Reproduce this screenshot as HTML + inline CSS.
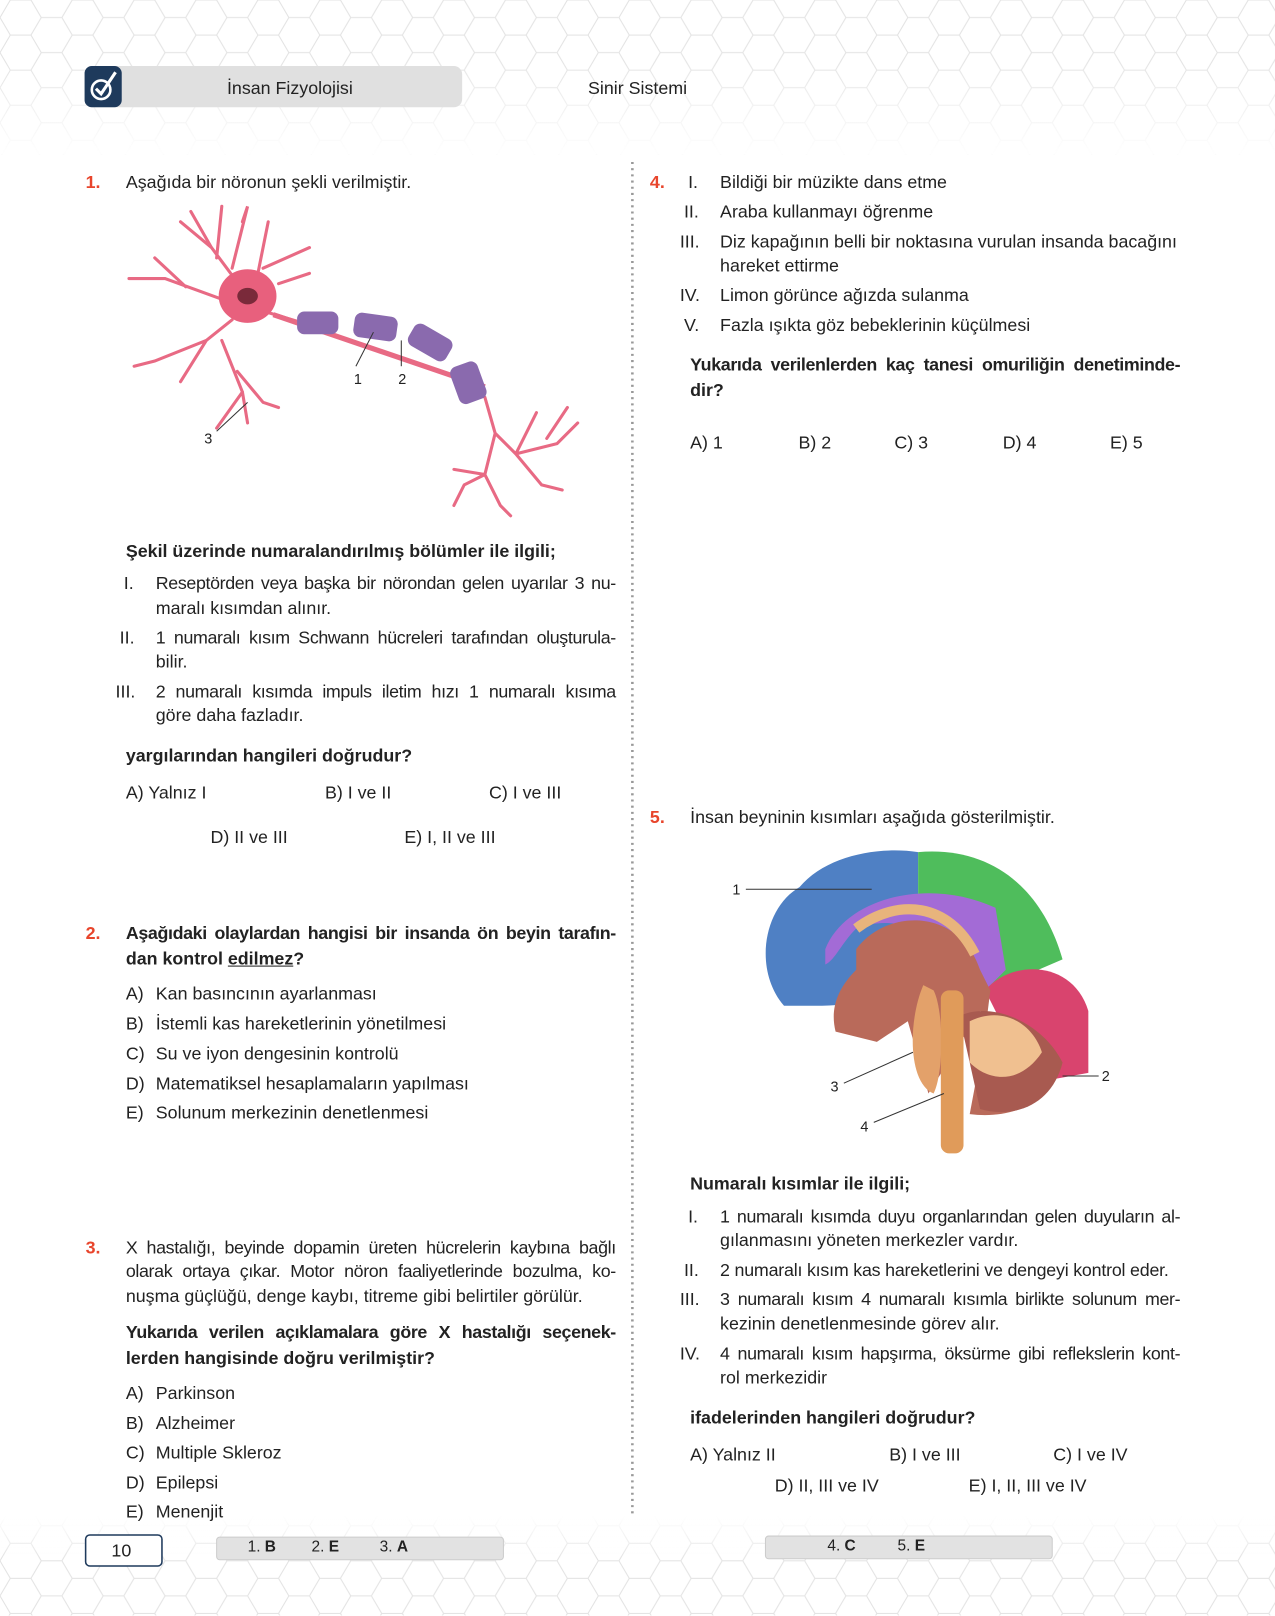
<!DOCTYPE html>
<html><head><meta charset="utf-8"><style>
html,body{margin:0;padding:0;background:#fff;width:1275px;height:1615px;overflow:hidden}
#w{position:absolute;left:0;top:0;width:1236px;height:1566px;transform:scale(1.0316);transform-origin:0 0;font-family:"Liberation Sans",sans-serif;font-size:17.3px;color:#222}
.t{position:absolute;white-space:nowrap;line-height:20px}
.j{text-align:justify;text-align-last:justify;white-space:normal;letter-spacing:-0.35px;height:20px}
.b{font-weight:bold}
.r{color:#e8452c;font-weight:bold}
</style></head><body><div id="w">
<svg style="position:absolute;left:0;top:0" width="1236" height="1566">
<defs><pattern id="hx" width="60" height="34" patternUnits="userSpaceOnUse"><path d="M0 17 L10 0 L30 0 L40 17 L30 34 L10 34 Z M40 17 L60 17" fill="none" stroke="#e2e2e2" stroke-width="1"/></pattern>
<linearGradient id="fd" x1="0" y1="0" x2="0" y2="1"><stop offset="0" stop-color="#fff" stop-opacity="0"/><stop offset="1" stop-color="#fff" stop-opacity="1"/></linearGradient>
<linearGradient id="fu" x1="0" y1="0" x2="0" y2="1"><stop offset="0" stop-color="#fff" stop-opacity="1"/><stop offset="1" stop-color="#fff" stop-opacity="0"/></linearGradient></defs>
<rect x="0" y="0" width="1236" height="150" fill="url(#hx)"/><rect x="0" y="60" width="1236" height="90" fill="url(#fd)"/>
<rect x="0" y="1470" width="1236" height="96" fill="url(#hx)"/><rect x="0" y="1470" width="1236" height="40" fill="url(#fu)"/>
<rect x="82" y="64" width="366" height="40" rx="8" fill="#e0e0e0"/>
<rect x="82" y="64" width="36" height="40" rx="7" fill="#1e3a5c"/>
<circle cx="98" cy="87" r="9" fill="none" stroke="#fff" stroke-width="2.5"/><path d="M93 86 L98 91 L112 70" fill="none" stroke="#fff" stroke-width="3"/>
<line x1="613" y1="157" x2="613" y2="1470" stroke="#999" stroke-width="2.5" stroke-dasharray="2 4"/>
<rect x="83" y="1488" width="74" height="30" rx="4" fill="#fff" stroke="#1e3a5c" stroke-width="1.5"/>
<rect x="210" y="1490" width="278" height="22" rx="3" fill="#e2e2e2" stroke="#ccc"/>
<rect x="742" y="1489" width="278" height="22" rx="3" fill="#e2e2e2" stroke="#ccc"/>
<g stroke="#e86a84" fill="none" stroke-width="3" stroke-linecap="round">
<path d="M240 287 L205 240 L185 205 M205 240 L175 215 M210 250 L215 200 M225 260 L240 200 L235 215 M250 265 L260 215 M255 260 L300 240 M270 275 L300 265 M215 290 L160 270 L125 270 M180 278 L150 250 M225 310 L200 330 L150 350 L130 355 M200 330 L175 370 M215 330 L235 380 L240 410 M230 360 L255 390 L270 395 M235 380 L210 415 M250 300 L290 312"/>
<path d="M470 385 L480 420 L500 440 L540 430 L560 410 M480 420 L470 460 L450 470 L440 490 M470 460 L485 490 L495 500 M500 440 L525 470 L545 475 M500 440 L520 400 M530 425 L550 395 M470 460 L440 455"/>
</g>
<path d="M240 287 m-28 0 a28 26 0 1 0 56 0 a28 26 0 1 0 -56 0" fill="#e8607d"/>
<ellipse cx="240" cy="287" rx="10" ry="8" fill="#7a2a3a"/>
<path d="M265 305 L470 375" stroke="#e86a84" stroke-width="5"/>
<g fill="#8a6aae"><rect x="288" y="302" width="40" height="22" rx="7"/><rect x="343" y="305" width="42" height="24" rx="7" transform="rotate(8 364 317)"/><rect x="396" y="320" width="42" height="24" rx="7" transform="rotate(30 417 332)"/><rect x="440" y="352" width="28" height="38" rx="7" transform="rotate(-20 454 371)"/></g>
<g stroke="#333" stroke-width="1"><line x1="345" y1="355" x2="362" y2="322"/><line x1="389" y1="355" x2="389" y2="330"/><line x1="210" y1="418" x2="240" y2="390"/></g>
<path d="M760 975 C730 940 740 880 775 860 C800 830 850 820 890 826 L890 950 C860 960 850 975 790 975 Z" fill="#4f80c4"/>
<path d="M890 826 C960 820 1010 860 1030 930 L960 960 L890 950 Z" fill="#4fbd5c"/>
<path d="M800 920 C820 870 900 850 965 880 L975 940 L955 960 C930 920 880 880 830 900 C815 915 810 930 800 935 Z" fill="#a36bd6"/>
<path d="M955 960 C980 930 1040 930 1055 980 L1055 1040 L1000 1050 Z" fill="#d9446e"/>
<path d="M830 920 C860 880 930 880 950 940 L960 960 L955 1000 L940 1080 C980 1085 1020 1070 1030 1030 L1000 1000 L950 980 L900 1060 L880 990 L850 1010 L810 1000 C805 980 810 960 830 940 Z" fill="#b96a5a"/>
<path d="M930 985 C960 970 1010 990 1030 1030 C1020 1070 985 1085 950 1075 Z" fill="#a85a50"/>
<path d="M940 990 C970 975 1000 990 1010 1020 C990 1050 960 1050 940 1030 Z" fill="#f0c090"/>
<path d="M830 900 C870 870 920 875 945 925" fill="none" stroke="#e8b47c" stroke-width="10"/>
<path d="M895 955 C880 990 880 1050 905 1060 C915 1040 915 980 905 960 Z" fill="#e3a16a"/>
<rect x="912" y="960" width="22" height="158" rx="8" fill="#e09b5a"/>
<g stroke="#333" stroke-width="1"><line x1="723" y1="862" x2="845" y2="862"/><line x1="1030" y1="1043" x2="1065" y2="1043"/><line x1="818" y1="1050" x2="885" y2="1020"/><line x1="847" y1="1088" x2="915" y2="1060"/></g>
</svg>
<div class="t" style="left:220px;top:75px">İnsan Fizyolojisi</div>
<div class="t" style="left:570px;top:75px">Sinir Sistemi</div>
<div class="t" style="left:343px;top:357px;font-size:14px">1</div>
<div class="t" style="left:386px;top:357px;font-size:14px">2</div>
<div class="t" style="left:198px;top:415px;font-size:14px">3</div>
<div class="t" style="left:710px;top:852px;font-size:14px">1</div>
<div class="t" style="left:1068px;top:1033px;font-size:14px">2</div>
<div class="t" style="left:805px;top:1043px;font-size:14px">3</div>
<div class="t" style="left:834px;top:1082px;font-size:14px">4</div>

<div class="t r" style="left:83px;top:166px">1.</div>
<div class="t" style="left:122px;top:166px">Aşağıda bir nöronun şekli verilmiştir.</div>
<div class="t b" style="left:122px;top:524px">Şekil üzerinde numaralandırılmış bölümler ile ilgili;</div>
<div class="t" style="left:120px;top:555px">I.</div><div class="t j" style="left:151px;top:555px;width:446px">Reseptörden veya başka bir nörondan gelen uyarılar 3 nu-</div>
<div class="t" style="left:151px;top:579px">maralı kısımdan alınır.</div>
<div class="t" style="left:116px;top:608px">II.</div><div class="t j" style="left:151px;top:608px;width:446px">1 numaralı kısım Schwann hücreleri tarafından oluşturula-</div>
<div class="t" style="left:151px;top:631px">bilir.</div>
<div class="t" style="left:112px;top:660px">III.</div><div class="t j" style="left:151px;top:660px;width:446px">2 numaralı kısımda impuls iletim hızı 1 numaralı kısıma</div>
<div class="t" style="left:151px;top:683px">göre daha fazladır.</div>
<div class="t b" style="left:122px;top:722px">yargılarından hangileri doğrudur?</div>
<div class="t" style="left:122px;top:758px">A) Yalnız I</div><div class="t" style="left:315px;top:758px">B) I ve II</div><div class="t" style="left:474px;top:758px">C) I ve III</div>
<div class="t" style="left:204px;top:801px">D) II ve III</div><div class="t" style="left:392px;top:801px">E) I, II ve III</div>

<div class="t r" style="left:83px;top:894px">2.</div>
<div class="t b j" style="left:122px;top:894px;width:475px">Aşağıdaki olaylardan hangisi bir insanda ön beyin tarafın-</div>
<div class="t b" style="left:122px;top:919px">dan kontrol <u>edilmez</u>?</div>
<div class="t" style="left:122px;top:953px">A)</div><div class="t" style="left:151px;top:953px">Kan basıncının ayarlanması</div>
<div class="t" style="left:122px;top:982px">B)</div><div class="t" style="left:151px;top:982px">İstemli kas hareketlerinin yönetilmesi</div>
<div class="t" style="left:122px;top:1011px">C)</div><div class="t" style="left:151px;top:1011px">Su ve iyon dengesinin kontrolü</div>
<div class="t" style="left:122px;top:1040px">D)</div><div class="t" style="left:151px;top:1040px">Matematiksel hesaplamaların yapılması</div>
<div class="t" style="left:122px;top:1068px">E)</div><div class="t" style="left:151px;top:1068px">Solunum merkezinin denetlenmesi</div>

<div class="t r" style="left:83px;top:1199px">3.</div>
<div class="t j" style="left:122px;top:1199px;width:475px">X hastalığı, beyinde dopamin üreten hücrelerin kaybına bağlı</div>
<div class="t j" style="left:122px;top:1222px;width:475px">olarak ortaya çıkar. Motor nöron faaliyetlerinde bozulma, ko-</div>
<div class="t" style="left:122px;top:1246px">nuşma güçlüğü, denge kaybı, titreme gibi belirtiler görülür.</div>
<div class="t b j" style="left:122px;top:1281px;width:475px">Yukarıda verilen açıklamalara göre X hastalığı seçenek-</div>
<div class="t b" style="left:122px;top:1306px">lerden hangisinde doğru verilmiştir?</div>
<div class="t" style="left:122px;top:1340px">A)</div><div class="t" style="left:151px;top:1340px">Parkinson</div>
<div class="t" style="left:122px;top:1369px">B)</div><div class="t" style="left:151px;top:1369px">Alzheimer</div>
<div class="t" style="left:122px;top:1398px">C)</div><div class="t" style="left:151px;top:1398px">Multiple Skleroz</div>
<div class="t" style="left:122px;top:1427px">D)</div><div class="t" style="left:151px;top:1427px">Epilepsi</div>
<div class="t" style="left:122px;top:1455px">E)</div><div class="t" style="left:151px;top:1455px">Menenjit</div>

<div class="t r" style="left:630px;top:166px">4.</div>
<div class="t" style="left:667px;top:166px">I.</div><div class="t" style="left:698px;top:166px">Bildiği bir müzikte dans etme</div>
<div class="t" style="left:663px;top:195px">II.</div><div class="t" style="left:698px;top:195px">Araba kullanmayı öğrenme</div>
<div class="t" style="left:659px;top:224px">III.</div><div class="t" style="left:698px;top:224px">Diz kapağının belli bir noktasına vurulan insanda bacağını</div>
<div class="t" style="left:698px;top:247px">hareket ettirme</div>
<div class="t" style="left:659px;top:276px">IV.</div><div class="t" style="left:698px;top:276px">Limon görünce ağızda sulanma</div>
<div class="t" style="left:663px;top:305px">V.</div><div class="t" style="left:698px;top:305px">Fazla ışıkta göz bebeklerinin küçülmesi</div>
<div class="t b j" style="left:669px;top:343px;width:475px">Yukarıda verilenlerden kaç tanesi omuriliğin denetiminde-</div>
<div class="t b" style="left:669px;top:368px">dir?</div>
<div class="t" style="left:669px;top:419px">A) 1</div><div class="t" style="left:774px;top:419px">B) 2</div><div class="t" style="left:867px;top:419px">C) 3</div><div class="t" style="left:972px;top:419px">D) 4</div><div class="t" style="left:1076px;top:419px">E) 5</div>

<div class="t r" style="left:630px;top:782px">5.</div>
<div class="t" style="left:669px;top:782px">İnsan beyninin kısımları aşağıda gösterilmiştir.</div>
<div class="t b" style="left:669px;top:1137px">Numaralı kısımlar ile ilgili;</div>
<div class="t" style="left:667px;top:1169px">I.</div><div class="t j" style="left:698px;top:1169px;width:446px">1 numaralı kısımda duyu organlarından gelen duyuların al-</div>
<div class="t" style="left:698px;top:1192px">gılanmasını yöneten merkezler vardır.</div>
<div class="t" style="left:663px;top:1221px;">II.</div><div class="t" style="left:698px;top:1221px;letter-spacing:-0.2px">2 numaralı kısım kas hareketlerini ve dengeyi kontrol eder.</div>
<div class="t" style="left:659px;top:1249px">III.</div><div class="t j" style="left:698px;top:1249px;width:446px">3 numaralı kısım 4 numaralı kısımla birlikte solunum mer-</div>
<div class="t" style="left:698px;top:1273px">kezinin denetlenmesinde görev alır.</div>
<div class="t" style="left:659px;top:1302px">IV.</div><div class="t j" style="left:698px;top:1302px;width:446px">4 numaralı kısım hapşırma, öksürme gibi reflekslerin kont-</div>
<div class="t" style="left:698px;top:1325px">rol merkezidir</div>
<div class="t b" style="left:669px;top:1364px">ifadelerinden hangileri doğrudur?</div>
<div class="t" style="left:669px;top:1400px">A) Yalnız II</div><div class="t" style="left:862px;top:1400px">B) I ve III</div><div class="t" style="left:1021px;top:1400px">C) I ve IV</div>
<div class="t" style="left:751px;top:1430px">D) II, III ve IV</div><div class="t" style="left:939px;top:1430px">E) I, II, III ve IV</div>

<div class="t" style="left:108px;top:1493px">10</div>
<div class="t" style="left:240px;top:1490px;font-size:15px">1. <b>B</b></div><div class="t" style="left:302px;top:1490px;font-size:15px">2. <b>E</b></div><div class="t" style="left:368px;top:1490px;font-size:15px">3. <b>A</b></div>
<div class="t" style="left:802px;top:1489px;font-size:15px">4. <b>C</b></div><div class="t" style="left:870px;top:1489px;font-size:15px">5. <b>E</b></div>
</div></body></html>
